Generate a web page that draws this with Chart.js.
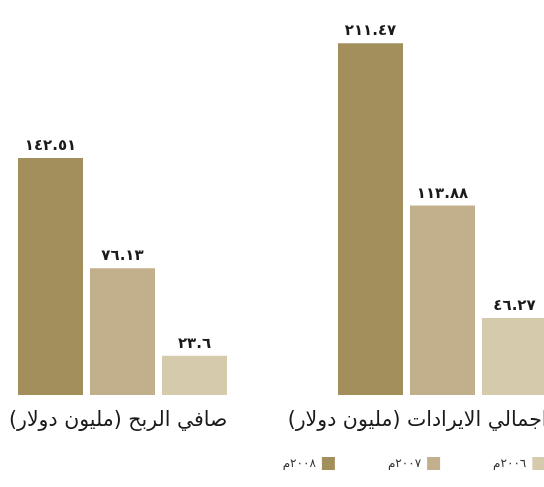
<!DOCTYPE html>
<html lang="ar">
<head>
<meta charset="utf-8">
<style>
html,body{margin:0;padding:0;background:#fff;overflow:hidden;width:544px;height:487px}
#wrap{position:relative;width:544px;height:487px;overflow:hidden;background:#fff}
#c{position:absolute;left:0;top:0}
</style>
<script src="https://cdn.jsdelivr.net/npm/chart.js@4"></script>
</head>
<body>
<div id="wrap"><canvas id="c" dir="rtl" style="width:828px;height:480px"></canvas></div>
<script>
// ---- data ----
const categories = ['صافي الربح (مليون دولار)', 'اجمالي الايرادات (مليون دولار)'];
const seriesNames = ['٢٠٠٨م', '٢٠٠٧م', '٢٠٠٦م'];
const values2008 = [142.51, 211.47];
const values2007 = [76.13, 113.88];
const values2006 = [23.6, 46.27];
const seriesColors = ['#a38f5c', '#c1b08b', '#d5cbac'];

const toArabicDigits = s => String(s).replace(/\d/g, d => '٠١٢٣٤٥٦٧٨٩'[d]);

const valueLabels = {
  id: 'valueLabels',
  afterDatasetsDraw(chart) {
    const ctx = chart.ctx;
    ctx.save();
    ctx.font = 'bold 15px "DejaVu Sans"';
    if ('letterSpacing' in ctx) ctx.letterSpacing = '2.5px';
    ctx.fillStyle = '#1a1a1a';
    ctx.textAlign = 'center';
    ctx.textBaseline = 'alphabetic';
    chart.data.datasets.forEach((ds, i) => {
      const meta = chart.getDatasetMeta(i);
      meta.data.forEach((bar, j) => {
        ctx.fillText(toArabicDigits(ds.data[j]), bar.x, bar.y - 8);
      });
    });
    ctx.restore();
  }
};

Chart.defaults.font.family = "'DejaVu Sans', 'Noto Sans', sans-serif";

const W = 828;
const groupCenterLeft = 122.5;
const groupCenterRight = 442.5;

new Chart(document.getElementById('c'), {
  type: 'bar',
  data: {
    labels: categories,
    datasets: [
      { label: seriesNames[0], data: values2008, backgroundColor: seriesColors[0] },
      { label: seriesNames[1], data: values2007, backgroundColor: seriesColors[1] },
      { label: seriesNames[2], data: values2006, backgroundColor: seriesColors[2] }
    ].map(d => Object.assign(d, { borderWidth: 0, clip: false, categoryPercentage: 0.675, barPercentage: 0.903 }))
  },
  options: {
    responsive: false,
    animation: false,
    layout: { padding: { top: 29, left: 0, right: 0, bottom: 0 } },
    plugins: {
      tooltip: { enabled: false },
      legend: {
        position: 'bottom',
        align: 'center',
        rtl: true,
        reverse: true,
        labels: {
          boxWidth: 13,
          boxHeight: 13,
          padding: 53,
          color: '#333',
          font: { size: 12 }
        }
      }
    },
    scales: {
      x: {
        offset: false,
        grid: { display: false },
        border: { display: false },
        ticks: {
          autoSkip: false,
          maxRotation: 0,
          mirror: true,
          align: 'end',
          padding: -38,
          labelOffset: 105,
          color: '#1a1a1a',
          font: { size: 20.5 }
        },
        afterFit: s => { s.height = 9; s.paddingLeft = 0; s.paddingRight = 0; }
      },
      y: {
        position: 'left',
        min: 0,
        max: 220,
        grid: { display: false },
        border: { display: false },
        ticks: { display: false },
        afterFit: s => { s.width = groupCenterLeft; }
      },
      y2: {
        position: 'right',
        display: true,
        min: 0,
        max: 220,
        grid: { display: false },
        border: { display: false },
        ticks: { display: false },
        afterFit: s => { s.width = W - groupCenterRight; }
      }
    }
  },
  plugins: [valueLabels]
});
</script>
</body>
</html>
